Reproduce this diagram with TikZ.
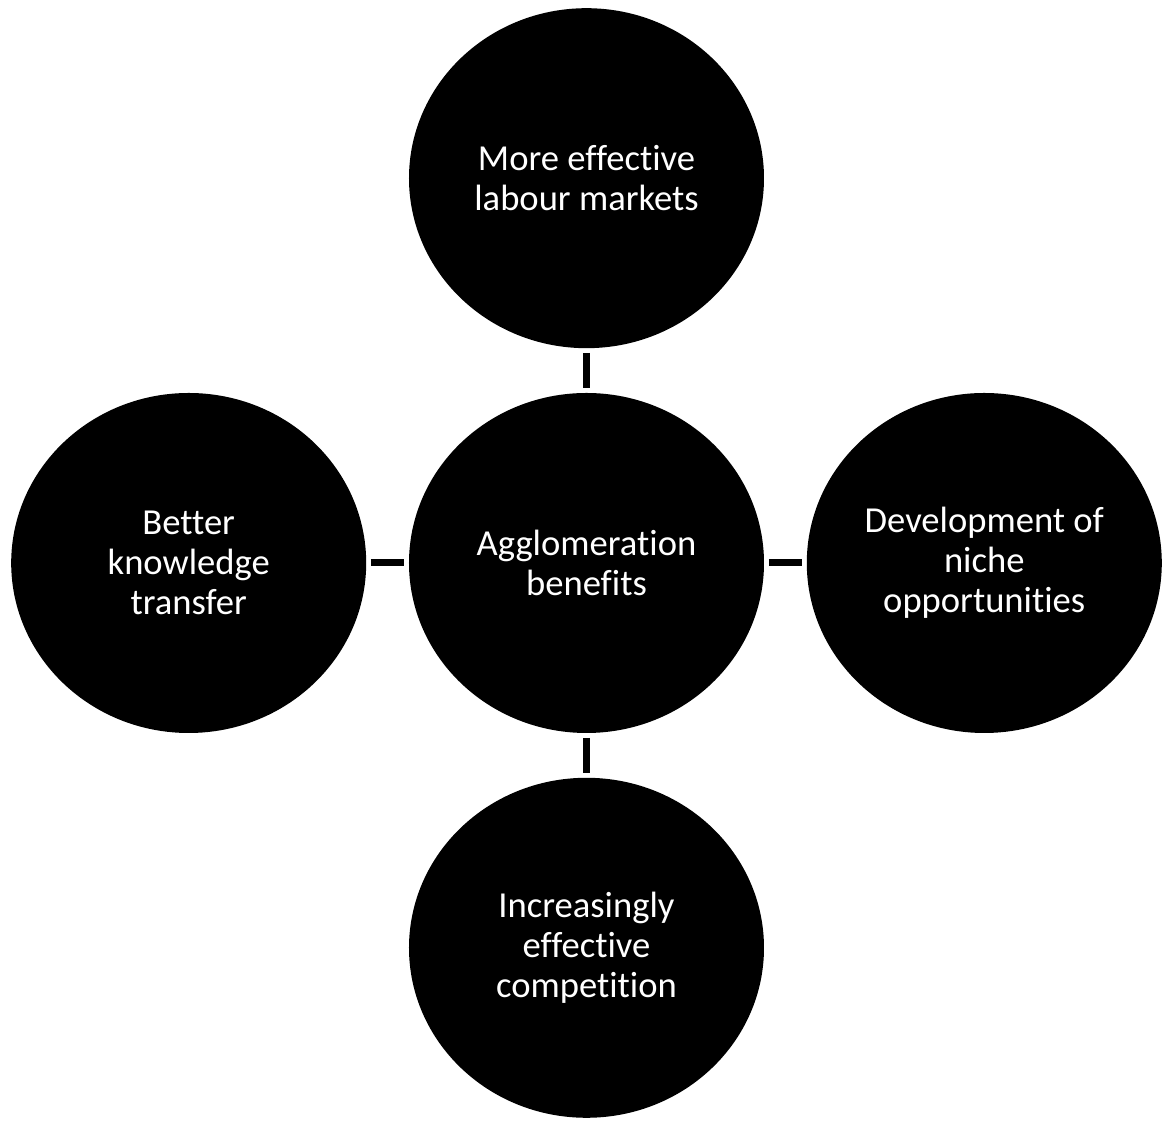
\documentclass[tikz,border=0pt]{standalone}
\usepackage{fontspec}
\setmainfont{Carlito}[Ligatures={NoCommon}]
\usetikzlibrary{shapes.geometric, positioning}
\tikzstyle{bubble} = [ellipse, fill=black, text=white, minimum width=177.5pt, minimum height=170pt, inner sep=0pt, align=center, font=\fontsize{18.3}{20}\selectfont]
\tikzstyle{link} = [line width=3.5pt, shorten <=2.2pt, shorten >=2.2pt]

\begin{document}
\begin{tikzpicture}[node distance=22pt and 21pt]
    \useasboundingbox (-293.25pt,-282pt) rectangle (293.25pt,281.5pt);
    % hub and the four benefits around it
    \node[bubble] (agg) {Agglomeration\\benefits};
    \node[bubble, above=of agg] (labour) {More effective\\labour markets};
    \node[bubble, below=of agg] (compet) {Increasingly\\effective\\competition};
    \node[bubble, left=of agg] (know) {Better\\knowledge\\transfer};
    \node[bubble, right=of agg] (niche) {Development of\\niche\\opportunities};
    % short spokes
    \draw[link] (labour) -- (agg);
    \draw[link] (agg) -- (compet);
    \draw[link] (know) -- (agg);
    \draw[link] (agg) -- (niche);
\end{tikzpicture}
\end{document}
